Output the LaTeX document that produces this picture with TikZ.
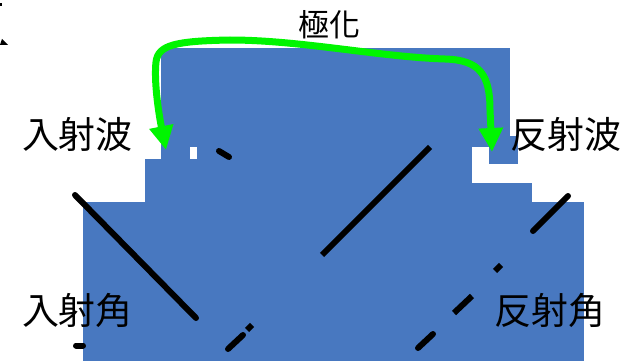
\documentclass[tikz,border=0pt]{standalone}
\usepackage{fontspec}
\newfontfamily\cjk{Noto Sans CJK TC}
\usetikzlibrary{arrows.meta}
\definecolor{boxblue}{RGB}{72,120,192}
\definecolor{polgreen}{RGB}{0,245,0}

\begin{document}
\begin{tikzpicture}[x=1pt,y=-1pt,
  ray/.style={line width=6pt, line cap=round},
  label/.style={inner sep=0pt, anchor=base, font=\cjk\fontsize{37}{37}\selectfont},
  polarrow/.style={line width=7pt, polgreen, {Triangle[width=23pt,length=24pt]}-{Triangle[width=23pt,length=24pt]}}]
\useasboundingbox (0,0) rectangle (630,361);

% Blue boxes
\fill[boxblue] (161,48) rectangle (510,147);
\fill[boxblue] (161,147) rectangle (190,159);
\fill[boxblue] (197,147) rectangle (472,159);
\fill[boxblue] (145,159) rectangle (472,202);
\fill[boxblue] (472,183) rectangle (532,202);
\fill[boxblue] (83,202) rectangle (584,361);
\fill[boxblue] (489,136) rectangle (518,164);

% Incident ray
\draw[ray] (75,195) -- (196,318);
\draw[ray] (219,151) -- (229,157);
\draw[ray] (76,345.5) -- (83,345.5);

% Reflected ray, solid part and broken pieces
\draw[ray, line cap=butt] (430,147) -- (322,255);
\draw[ray, line cap=butt] (252,325) -- (247,330);
\draw[ray] (243,335) -- (228,349);

% Right ray, broken pieces
\draw[ray] (568,196) -- (533,231);
\draw[ray, line cap=butt] (501,265) -- (495,271);
\draw[ray, line cap=butt] (472,296) -- (454,313);
\draw[ray] (433,334) -- (418,348);

% Stray marks at the top left
\fill (0,45) -- (8,45) -- (2,39) -- cycle;
\fill (0,3) rectangle (2,6);

% Green polarization arrow
\coordinate (lt) at (166,150);
\coordinate (rt) at (492,152);
\draw[polarrow] (lt) .. controls (158,110) and (154,80) .. (156,62)
  .. controls (158,45) and (175,41) .. (230,40)
  .. controls (300,40) and (380,57) .. (445,59)
  .. controls (480,60) and (490,75) .. (490,110) -- (rt);

% Labels
\node[label, font=\cjk\fontsize{31}{31}\selectfont] (pol) at (329,37) {極化};
\node[label] (inwave) at (77.5,149) {入射波};
\node[label] (refwave) at (566,149) {反射波};
\node[label] (inangle) at (77.5,324) {入射角};
\node[label] (refangle) at (550,324) {反射角};

\end{tikzpicture}
\end{document}
